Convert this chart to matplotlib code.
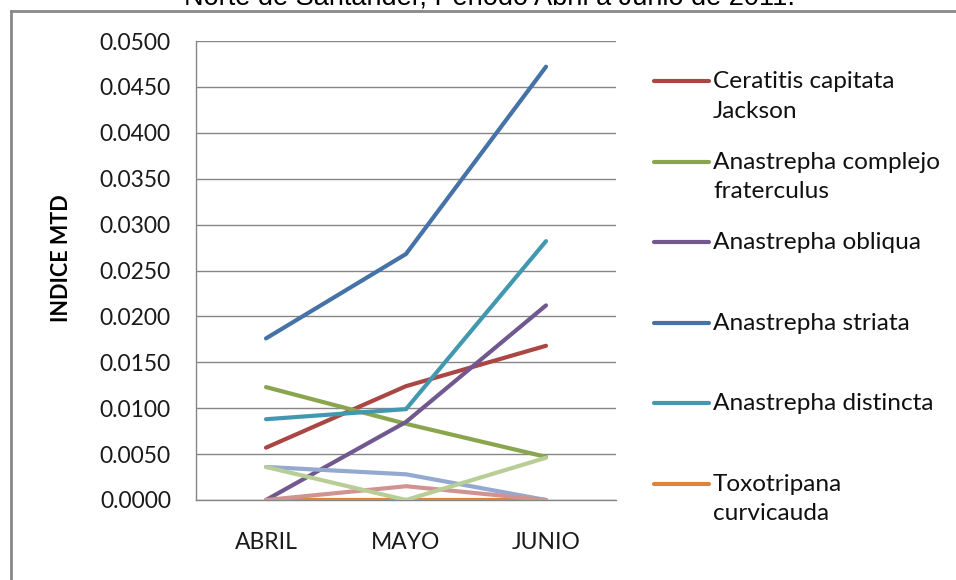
import matplotlib.pyplot as plt
from matplotlib.lines import Line2D

plt.rcParams['font.family'] = ['Lato', 'DejaVu Sans']

meses = ["ABRIL", "MAYO", "JUNIO"]

ceratitis = [0.0057, 0.0124, 0.0168]
complejo = [0.0123, 0.0083, 0.0047]
obliqua = [0.0000, 0.0085, 0.0212]
striata = [0.0176, 0.0268, 0.0472]
distincta = [0.0088, 0.0099, 0.0282]
toxotripana = [0.0000, 0.0000, 0.0000]
serie7 = [0.0036, 0.0028, 0.0000]
serie8 = [0.0000, 0.0015, 0.0000]
serie9 = [0.0036, 0.0000, 0.0046]

nombres = ["Ceratitis capitata\nJackson", "Anastrepha complejo\nfraterculus",
           "Anastrepha obliqua", "Anastrepha striata", "Anastrepha distincta",
           "Toxotripana\ncurvicauda"]

series = [ceratitis, complejo, obliqua, striata, distincta, toxotripana,
          serie7, serie8, serie9]
colores = ["#AA4643", "#89A54E", "#71588F", "#4572A7", "#4198AF", "#DB843D",
           "#93A9CF", "#D19392", "#B9CD96"]

fig = plt.figure(figsize=(9.56, 5.8), dpi=100)
ax = fig.add_axes([196 / 956, 1 - 500 / 580, 420 / 956, 459 / 580])

x = range(len(meses))
for vals, col in zip(series, colores):
    ax.plot(x, vals, color=col, lw=3.0, solid_capstyle='round', zorder=3)

ax.set_xlim(-0.5, 2.5)
ax.set_ylim(0, 0.05)
ax.set_yticks([i * 0.005 for i in range(11)])
ax.set_yticklabels([f"{i * 0.005:.4f}" for i in range(11)])
ax.set_xticks(list(x))
ax.set_xticklabels(meses)
ax.tick_params(axis='y', length=0, pad=18, labelsize=16.5, colors='#1a1a1a')
ax.tick_params(axis='x', length=0, pad=23, labelsize=16.5, colors='#1a1a1a')
ax.grid(axis='y', color='#868686', lw=1.0, zorder=0)
for s in ['top', 'right']:
    ax.spines[s].set_visible(False)
for s in ['left', 'bottom']:
    ax.spines[s].set_color('#868686')
    ax.spines[s].set_linewidth(1.0)

fig.text(62 / 956, 1 - 258 / 580, "INDICE MTD", rotation=90, fontsize=15.5,
         fontweight='bold', ha='center', va='center')

# leyenda manual (solo las seis primeras series)
for k, nombre in enumerate(nombres):
    yk = 1 - (81 + 80.6 * k) / 580
    fig.add_artist(Line2D([654 / 956, 709 / 956], [yk, yk], color=colores[k],
                          lw=3.0, solid_capstyle='round', transform=fig.transFigure))
    fig.text(713 / 956, yk + 10 / 580, nombre, fontsize=17.6, va='top', ha='left',
             linespacing=1.5, color='#111111')

# marco del gráfico y título cortado
fig.add_artist(Line2D([11 / 956, 11 / 956], [0, 1 - 11 / 580], color='#888888',
                      lw=2.0, transform=fig.transFigure))
fig.add_artist(Line2D([11 / 956, 1], [1 - 11 / 580, 1 - 11 / 580], color='#888888',
                      lw=2.0, transform=fig.transFigure))
fig.text(490 / 956, 1 - 5 / 580, "Norte de Santander, Periodo Abril a Junio de 2011.",
         family='Liberation Sans', fontsize=19.5, ha='center', va='baseline')

fig.savefig("out.png", dpi=100)
